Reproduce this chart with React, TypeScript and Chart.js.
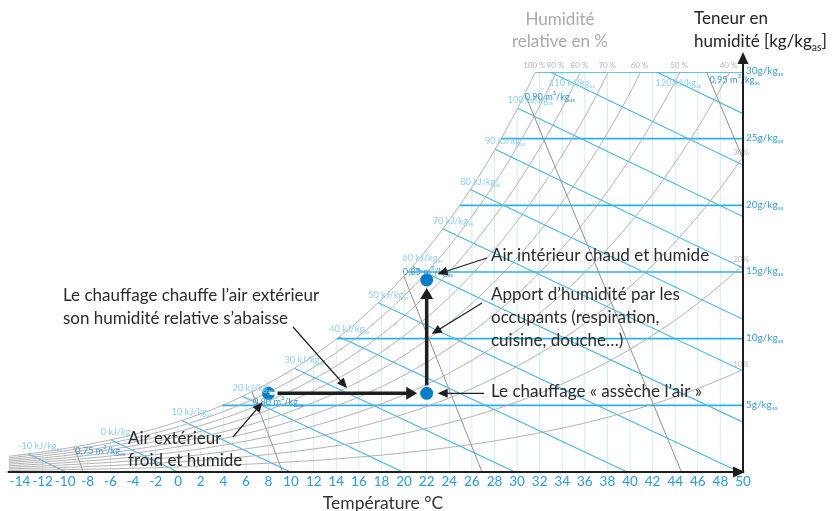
import React, { useEffect, useRef } from "react";
import { Chart, registerables } from "chart.js";
Chart.register(...registerables);

const FONT = "Lato, 'Open Sans', sans-serif";

// Temperatures (°C) at which the relative-humidity curves are read
const curveTemps = [-15, -14, -12, -10, -8, -6, -4, -2, 0, 2, 4, 6, 8, 10, 12, 14, 16, 18, 20, 22, 24, 26, 28, 30, 32, 34, 36, 38, 40, 42, 44, 46, 48, 50];
// Humidity content (g/kg) along each relative-humidity curve
const rh100 = [1.18, 1.28, 1.5, 1.76, 2.06, 2.41, 2.8, 3.26, 3.78, 4.36, 5.03, 5.8, 6.66, 7.63, 8.73, 9.97, 11.37, 12.94, 14.7, 16.67, 18.88, 21.36, 24.12, 27.21, 30.66];
const rh90 = [1.06, 1.15, 1.35, 1.59, 1.86, 2.17, 2.52, 2.93, 3.4, 3.93, 4.53, 5.21, 5.99, 6.86, 7.85, 8.96, 10.21, 11.62, 13.2, 14.97, 16.94, 19.16, 21.63, 24.38, 27.45, 30.88];
const rh80 = [0.94, 1.02, 1.2, 1.41, 1.65, 1.92, 2.24, 2.6, 3.02, 3.49, 4.02, 4.63, 5.32, 6.09, 6.97, 7.95, 9.06, 10.31, 11.7, 13.27, 15.02, 16.97, 19.15, 21.58, 24.29, 27.3, 30.65];
const rh70 = [0.82, 0.89, 1.05, 1.23, 1.44, 1.68, 1.96, 2.28, 2.64, 3.05, 3.52, 4.05, 4.65, 5.32, 6.09, 6.95, 7.92, 9.0, 10.22, 11.58, 13.1, 14.8, 16.69, 18.8, 21.15, 23.76, 26.65, 29.87, 33.44];
const rh60 = [0.71, 0.77, 0.9, 1.06, 1.24, 1.44, 1.68, 1.95, 2.26, 2.61, 3.01, 3.46, 3.98, 4.56, 5.21, 5.95, 6.77, 7.7, 8.74, 9.9, 11.2, 12.64, 14.25, 16.05, 18.04, 20.25, 22.71, 25.43, 28.44, 31.78];
const rh50 = [0.59, 0.64, 0.75, 0.88, 1.03, 1.2, 1.4, 1.63, 1.89, 2.17, 2.51, 2.88, 3.31, 3.79, 4.34, 4.95, 5.63, 6.4, 7.26, 8.23, 9.3, 10.5, 11.83, 13.31, 14.96, 16.79, 18.81, 21.05, 23.52, 26.26, 29.29, 32.62];
const rh40 = [0.47, 0.51, 0.6, 0.7, 0.82, 0.96, 1.12, 1.3, 1.51, 1.74, 2.01, 2.31, 2.65, 3.03, 3.46, 3.95, 4.5, 5.11, 5.8, 6.56, 7.42, 8.37, 9.43, 10.61, 11.91, 13.36, 14.96, 16.73, 18.68, 20.83, 23.21, 25.83, 28.71, 31.89];
const rh30 = [0.35, 0.38, 0.45, 0.53, 0.62, 0.72, 0.84, 0.98, 1.13, 1.3, 1.5, 1.73, 1.98, 2.27, 2.59, 2.96, 3.37, 3.83, 4.34, 4.91, 5.55, 6.26, 7.05, 7.92, 8.89, 9.96, 11.15, 12.46, 13.9, 15.5, 17.25, 19.17, 21.29, 23.61];
const rh20 = [0.23, 0.26, 0.3, 0.35, 0.41, 0.48, 0.56, 0.65, 0.75, 0.87, 1.0, 1.15, 1.32, 1.51, 1.73, 1.97, 2.24, 2.55, 2.89, 3.27, 3.69, 4.16, 4.68, 5.26, 5.9, 6.61, 7.39, 8.25, 9.2, 10.25, 11.39, 12.65, 14.03, 15.54];
const rh10 = [0.12, 0.13, 0.15, 0.18, 0.21, 0.24, 0.28, 0.32, 0.38, 0.43, 0.5, 0.58, 0.66, 0.76, 0.86, 0.98, 1.12, 1.27, 1.44, 1.63, 1.84, 2.07, 2.33, 2.62, 2.94, 3.29, 3.67, 4.1, 4.57, 5.08, 5.64, 6.26, 6.94, 7.68];
const rhCurves = [rh100, rh90, rh80, rh70, rh60, rh50, rh40, rh30, rh20, rh10];
const rhTopLabels = ["100 %", "90 %", "80 %", "70 %", "60 %", "50 %", "40 %"];
const rhSideLabels = ["30%", "20%", "10%"];

// Axis ticks
const tempTicks = [-14, -12, -10, -8, -6, -4, -2, 0, 2, 4, 6, 8, 10, 12, 14, 16, 18, 20, 22, 24, 26, 28, 30, 32, 34, 36, 38, 40, 42, 44, 46, 48, 50];
const humidityTicks = [5, 10, 15, 20, 25, 30];
const humidityStartT = [3.9, 14.04, 20.3, 24.9, 28.57, 31.62];

// Enthalpy lines (kJ/kg): start (upper-left) and end (lower-right)
const enthalpyValues = [-10, 0, 10, 20, 30, 40, 50, 60, 70, 80, 90, 100, 110, 120];
const enthalpyStartT = [-13.28, -5.97, 0.32, 5.7, 10.29, 14.25, 17.7, 20.73, 23.42, 25.85, 28.05, 30.05, 32.93, 42.35];
const enthalpyStartW = [1.36, 2.41, 3.87, 5.68, 7.79, 10.15, 12.7, 15.42, 18.25, 21.18, 24.2, 27.29, 30, 30];
const enthalpyEndT = [-9.94, 0, 9.94, 19.88, 29.82, 39.76, 49.7, 50, 50, 50, 50, 50, 50, 50];
const enthalpyEndW = [0, 0, 0, 0, 0, 0, 0, 3.74, 7.59, 11.45, 15.3, 19.16, 23.02, 26.87];

// Specific volume lines (m³/kg)
const volumeLabels = ["0,75", "0,80", "0,85", "0,90", "0,95"];
const volumeStartT = [-9.2, 6.54, 19.98, 30.68, 46.77];
const volumeStartW = [1.88, 6.03, 14.68, 28.38, 30];
const volumeEndT = [-8.4, 9.25, 26.9, 44.55, 50];
const volumeEndW = [0, 0, 0, 0, 23.48];

// Air states: outdoor, heated, humidified indoor
const stateT = [8, 22, 22];
const stateW = [5.9, 5.9, 14.4];

// ---- layout (pixels) ----
const volumeLabelOffsets = [[1, 4], [1, 10], [-1, -4], [0, 3], [3, 8]];

function lineDs(pts: any[], color: string, width: number, order: number, extra: any = {}) {
  return {
    type: "scatter",
    data: pts,
    showLine: true,
    borderColor: color,
    backgroundColor: color,
    borderWidth: width,
    pointRadius: 0,
    pointHoverRadius: 0,
    fill: false,
    order,
    ...extra,
  };
}

function buildDatasets() {
  const ds: any[] = [];
  ds.push({
    type: "scatter",
    data: stateT.map((t, i) => ({ x: t, y: stateW[i] })),
    pointRadius: 6.5,
    pointHoverRadius: 6.5,
    pointBackgroundColor: "#0b7dc6",
    pointBorderWidth: 0,
    showLine: false,
    order: 0,
  });
  rhCurves.forEach((arr) => {
    ds.push(lineDs(arr.map((w, i) => ({ x: curveTemps[i], y: w })), "#aaaaaa", 0.9, 3, { cubicInterpolationMode: "monotone" }));
  });
  volumeLabels.forEach((_, i) => {
    ds.push(lineDs([{ x: volumeStartT[i], y: volumeStartW[i] }, { x: volumeEndT[i], y: volumeEndW[i] }], "#8f8f8f", 1, 4));
  });
  enthalpyValues.forEach((_, i) => {
    ds.push(lineDs([{ x: enthalpyStartT[i], y: enthalpyStartW[i] }, { x: enthalpyEndT[i], y: enthalpyEndW[i] }], "#47b4e6", 1.1, 5));
  });
  humidityTicks.forEach((w, i) => {
    ds.push(lineDs([{ x: humidityStartT[i], y: w }, { x: 50, y: w }], "#2fb0e3", 1.7, 6));
  });
  tempTicks.forEach((t) => {
    const idx = curveTemps.indexOf(t);
    const top = idx >= 0 && idx < rh100.length ? Math.min(rh100[idx], 30) : 30;
    ds.push(lineDs([{ x: t, y: 0 }, { x: t, y: top }], "#d5ecf8", 1, 7));
  });
  return ds;
}

function crossT(arr: number[], level: number) {
  for (let i = 1; i < arr.length; i++) {
    if (arr[i] >= level) {
      const f = (level - arr[i - 1]) / (arr[i] - arr[i - 1]);
      return curveTemps[i - 1] + f * (curveTemps[i] - curveTemps[i - 1]);
    }
  }
  return curveTemps[arr.length - 1];
}

type Part = { t: string; s?: "sub" | "sup" };
function drawRich(ctx: CanvasRenderingContext2D, x: number, y: number, parts: Part[], size: number, color: string, align: "left" | "center" | "right" = "left") {
  ctx.fillStyle = color;
  ctx.textBaseline = "middle";
  ctx.textAlign = "left";
  let total = 0;
  for (const p of parts) {
    ctx.font = `${p.s ? size * 0.62 : size}px ${FONT}`;
    total += ctx.measureText(p.t).width;
  }
  let cx = align === "left" ? x : align === "center" ? x - total / 2 : x - total;
  for (const p of parts) {
    ctx.font = `${p.s ? size * 0.62 : size}px ${FONT}`;
    const dy = p.s === "sub" ? size * 0.35 : p.s === "sup" ? -size * 0.4 : 0;
    ctx.fillText(p.t, cx, y + dy);
    cx += ctx.measureText(p.t).width;
  }
}

function arrow(ctx: CanvasRenderingContext2D, x1: number, y1: number, x2: number, y2: number, lw: number, headL: number, headW: number, color = "#1e1e1e") {
  const a = Math.atan2(y2 - y1, x2 - x1);
  const bx = x2 - Math.cos(a) * headL;
  const by = y2 - Math.sin(a) * headL;
  ctx.strokeStyle = color;
  ctx.fillStyle = color;
  ctx.lineWidth = lw;
  ctx.lineCap = "butt";
  ctx.beginPath();
  ctx.moveTo(x1, y1);
  ctx.lineTo(bx + Math.cos(a) * 1, by + Math.sin(a) * 1);
  ctx.stroke();
  ctx.beginPath();
  ctx.moveTo(x2, y2);
  ctx.lineTo(bx + Math.sin(a) * headW, by - Math.cos(a) * headW);
  ctx.lineTo(bx - Math.sin(a) * headW, by + Math.cos(a) * headW);
  ctx.closePath();
  ctx.fill();
}

const overlay = {
  id: "overlay",
  afterDatasetsDraw(chart: any) {
    const ctx: CanvasRenderingContext2D = chart.ctx;
    const xs = chart.scales.x;
    const ys = chart.scales.y;
    const X = (t: number) => xs.getPixelForValue(t);
    const Y = (w: number) => ys.getPixelForValue(w);
    const area = chart.chartArea;
    ctx.save();

    // enthalpy labels
    enthalpyValues.forEach((h, i) => {
      const sx = X(enthalpyStartT[i]);
      const sy = Y(enthalpyStartW[i]);
      const top = enthalpyStartW[i] >= 30;
      drawRich(ctx, top ? sx - 1 : sx - 10, top ? sy + 11 : sy - 8, [{ t: `${h} kJ/kg` }, { t: "as", s: "sub" }], 9.2, "#8fd0ef");
    });
    // volume labels
    volumeLabels.forEach((v, i) => {
      const sx = X(volumeStartT[i]) + volumeLabelOffsets[i][0];
      const sy = Y(volumeStartW[i]) + volumeLabelOffsets[i][1];
      drawRich(ctx, sx, sy, [{ t: `${v} m` }, { t: "3", s: "sup" }, { t: "/kg" }, { t: "as", s: "sub" }], 9.2, "#3a97d2");
    });
    // humidity labels (right)
    humidityTicks.forEach((w) => {
      drawRich(ctx, area.right + 3, Y(w) - 1, [{ t: `${w}g/kg` }, { t: "as", s: "sub" }], 10, "#3aa0d9");
    });
    // RH labels top
    rhTopLabels.forEach((lab, i) => {
      const t = crossT(rhCurves[i], 30);
      drawRich(ctx, X(t) - 1, area.top - 7, [{ t: lab }], 8, "#b5b5b5", "center");
    });
    rhSideLabels.forEach((lab, j) => {
      const arr = rhCurves[7 + j];
      drawRich(ctx, area.right - 2, Y(arr[arr.length - 1]) - 5, [{ t: lab }], 8, "#b8b8b8", "center");
    });

    // axes
    ctx.strokeStyle = "#1e1e1e";
    ctx.fillStyle = "#1e1e1e";
    ctx.lineWidth = 2;
    ctx.beginPath();
    ctx.moveTo(area.left - 1, area.bottom);
    ctx.lineTo(area.right - 8, area.bottom);
    ctx.stroke();
    ctx.beginPath();
    ctx.moveTo(area.right + 2, area.bottom);
    ctx.lineTo(area.right - 10, area.bottom - 5.5);
    ctx.lineTo(area.right - 10, area.bottom + 5.5);
    ctx.closePath();
    ctx.fill();
    ctx.beginPath();
    ctx.moveTo(area.right, area.bottom + 1);
    ctx.lineTo(area.right, area.top - 8);
    ctx.stroke();
    ctx.beginPath();
    ctx.moveTo(area.right, area.top - 20);
    ctx.lineTo(area.right - 5.5, area.top - 8);
    ctx.lineTo(area.right + 5.5, area.top - 8);
    ctx.closePath();
    ctx.fill();

    // process arrows
    const p0x = X(stateT[0]), p0y = Y(stateW[0]);
    const p1x = X(stateT[1]), p1y = Y(stateW[1]);
    const p2x = X(stateT[2]), p2y = Y(stateW[2]);
    ctx.strokeStyle = "#ffffff";
    ctx.lineWidth = 3;
    ctx.beginPath();
    ctx.moveTo(p0x + 1, p0y);
    ctx.lineTo(p0x + 9, p0y);
    ctx.stroke();
    arrow(ctx, p0x + 9, p0y, p1x - 9.5, p1y, 3.5, 11, 6.5);
    arrow(ctx, p1x, p1y - 8, p2x, p2y + 8, 3.5, 11, 6.5);

    // annotations
    const tc = "#2a2a2a";
    const fs = 17;
    drawRich(ctx, 491, 256, [{ t: "Air intérieur chaud et humide" }], fs, tc);
    arrow(ctx, 487, 258, p2x + 11, p2y - 6, 1.2, 10, 4.5);
    drawRich(ctx, 491, 295, [{ t: "Apport d’humidité par les" }], fs, tc);
    drawRich(ctx, 491, 318, [{ t: "occupants (respiration," }], fs, tc);
    drawRich(ctx, 491, 341, [{ t: "cuisine, douche…)" }], fs, tc);
    arrow(ctx, 482, 303, p1x + 5, 334, 1.2, 10, 4.5);
    drawRich(ctx, 491, 392, [{ t: "Le chauffage « assèche l’air »" }], fs, tc);
    arrow(ctx, 484, p1y, p1x + 11, p1y, 1.2, 10, 4.5);
    drawRich(ctx, 63, 296, [{ t: "Le chauffage chauffe l’air extérieur" }], fs, tc);
    drawRich(ctx, 63, 319, [{ t: "son humidité relative s’abaisse" }], fs, tc);
    arrow(ctx, 293, 327, 347, 388, 1.2, 10, 4.5);
    drawRich(ctx, 128, 439, [{ t: "Air extérieur" }], fs, tc);
    drawRich(ctx, 128, 461, [{ t: "froid et humide" }], fs, tc);
    arrow(ctx, 233, 437, p0x - 6, p0y + 9, 1.2, 10, 4.5);

    // tick labels and titles
    tempTicks.forEach((t) => {
      drawRich(ctx, X(t), area.bottom + 10, [{ t: `${t}` }], 13.5, "#2a9ad7", "center");
    });
    drawRich(ctx, 383, 503, [{ t: "Température °C" }], 17.5, "#333333", "center");
    drawRich(ctx, 560, 20, [{ t: "Humidité" }], 17, "#a9a9a9", "center");
    drawRich(ctx, 560, 42, [{ t: "relative en %" }], 17, "#a9a9a9", "center");
    drawRich(ctx, 694, 19, [{ t: "Teneur en" }], 17, "#222222");
    drawRich(ctx, 694, 42, [{ t: "humidité [kg/kg" }, { t: "as", s: "sub" }, { t: "]" }], 17, "#222222");

    ctx.restore();
  },
};

export default function App() {
  const ref = useRef<HTMLCanvasElement>(null);
  useEffect(() => {
    const chart = new Chart(ref.current as HTMLCanvasElement, {
      type: "scatter",
      data: { datasets: buildDatasets() },
      options: {
        responsive: false,
        animation: false,
        devicePixelRatio: 1,
        events: [],
        layout: { padding: { left: 8.7, right: 90, top: 72, bottom: 39 } },
        scales: {
          x: { type: "linear", min: -15, max: 50, display: false },
          y: { type: "linear", min: 0, max: 30, display: false },
        },
        plugins: { legend: { display: false }, tooltip: { enabled: false } },
      },
      plugins: [overlay],
    } as any);
    return () => chart.destroy();
  }, []);
  return (
    <div style={{ position: "absolute", left: 0, top: 0, width: 833, height: 511, background: "#fff" }}>
      <canvas ref={ref} width={833} height={511} style={{ display: "block", width: 833, height: 511 }} />
    </div>
  );
}
